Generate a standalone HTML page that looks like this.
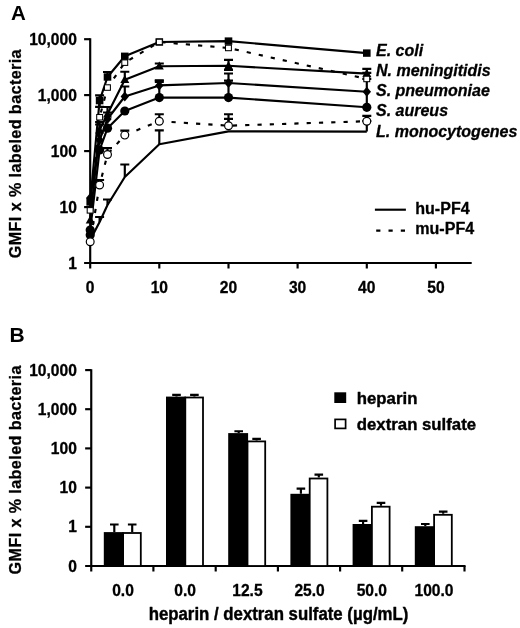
<!DOCTYPE html>
<html><head><meta charset="utf-8"><title>Figure</title>
<style>html,body{margin:0;padding:0;background:#fff}svg{display:block}text{fill:#000;stroke-linejoin:round}</style></head>
<body><svg width="520" height="628" viewBox="0 0 520 628">
<rect width="520" height="628" fill="#fff"/>
<path d="M90.2 38.3V268.5M84.10000000000001 263.0H471.7" stroke="#000" stroke-width="2.15" fill="none"/>
<text transform="translate(76.90,268.60)" text-anchor="end" font-family="Liberation Sans, Arial, Helvetica, sans-serif" font-weight="bold" font-size="15.6" stroke="#000" stroke-width="0.3">1</text>
<path d="M84.10000000000001 207.1H90.2" stroke="#000" stroke-width="2.15"/>
<text transform="translate(76.90,212.65)" text-anchor="end" font-family="Liberation Sans, Arial, Helvetica, sans-serif" font-weight="bold" font-size="15.6" stroke="#000" stroke-width="0.3">10</text>
<path d="M84.10000000000001 151.1H90.2" stroke="#000" stroke-width="2.15"/>
<text transform="translate(76.90,156.70)" text-anchor="end" font-family="Liberation Sans, Arial, Helvetica, sans-serif" font-weight="bold" font-size="15.6" stroke="#000" stroke-width="0.3">100</text>
<path d="M84.10000000000001 95.1H90.2" stroke="#000" stroke-width="2.15"/>
<text transform="translate(76.90,100.75)" text-anchor="end" font-family="Liberation Sans, Arial, Helvetica, sans-serif" font-weight="bold" font-size="15.6" stroke="#000" stroke-width="0.3">1,000</text>
<path d="M84.10000000000001 39.2H90.2" stroke="#000" stroke-width="2.15"/>
<text transform="translate(76.90,44.80)" text-anchor="end" font-family="Liberation Sans, Arial, Helvetica, sans-serif" font-weight="bold" font-size="15.6" stroke="#000" stroke-width="0.3">10,000</text>
<path d="M159.3 263.0V268.5" stroke="#000" stroke-width="2.15"/>
<path d="M228.5 263.0V268.5" stroke="#000" stroke-width="2.15"/>
<path d="M297.6 263.0V268.5" stroke="#000" stroke-width="2.15"/>
<path d="M366.8 263.0V268.5" stroke="#000" stroke-width="2.15"/>
<path d="M435.9 263.0V268.5" stroke="#000" stroke-width="2.15"/>
<text transform="translate(90.20,293.20)" text-anchor="middle" font-family="Liberation Sans, Arial, Helvetica, sans-serif" font-weight="bold" font-size="15.6" stroke="#000" stroke-width="0.3">0</text>
<text transform="translate(159.34,293.20)" text-anchor="middle" font-family="Liberation Sans, Arial, Helvetica, sans-serif" font-weight="bold" font-size="15.6" stroke="#000" stroke-width="0.3">10</text>
<text transform="translate(228.48,293.20)" text-anchor="middle" font-family="Liberation Sans, Arial, Helvetica, sans-serif" font-weight="bold" font-size="15.6" stroke="#000" stroke-width="0.3">20</text>
<text transform="translate(297.62,293.20)" text-anchor="middle" font-family="Liberation Sans, Arial, Helvetica, sans-serif" font-weight="bold" font-size="15.6" stroke="#000" stroke-width="0.3">30</text>
<text transform="translate(366.76,293.20)" text-anchor="middle" font-family="Liberation Sans, Arial, Helvetica, sans-serif" font-weight="bold" font-size="15.6" stroke="#000" stroke-width="0.3">40</text>
<text transform="translate(435.90,293.20)" text-anchor="middle" font-family="Liberation Sans, Arial, Helvetica, sans-serif" font-weight="bold" font-size="15.6" stroke="#000" stroke-width="0.3">50</text>
<text transform="translate(21.20,153.60) rotate(-90) scale(0.95,1)" text-anchor="middle" font-family="Liberation Sans, Arial, Helvetica, sans-serif" font-weight="bold" font-size="17.0" stroke="#000" stroke-width="0.3" letter-spacing="0.42">GMFI x % labeled bacteria</text>
<text transform="translate(11.00,19.90)" text-anchor="start" font-family="Liberation Sans, Arial, Helvetica, sans-serif" font-weight="bold" font-size="20.5">A</text>
<path d="M90.2 240.0L99.6 222.0L107.5 205.0L124.8 177.0L159.3 144.2L228.5 131.4L366.8 131.6" stroke="#000" stroke-width="2.15" fill="none" stroke-linejoin="round"/>
<path d="M99.6 222.0V217.0M95.1 217.0H104.1" stroke="#000" stroke-width="2.15" fill="none"/>
<path d="M107.5 205.0V199.5M103.0 199.5H112.0" stroke="#000" stroke-width="2.15" fill="none"/>
<path d="M124.8 177.0V164.5M120.3 164.5H129.3" stroke="#000" stroke-width="2.15" fill="none"/>
<path d="M159.3 144.2V130.4M154.8 130.4H163.8" stroke="#000" stroke-width="2.15" fill="none"/>
<path d="M366.8 131.5V121.0M362.3 121.0H371.3" stroke="#000" stroke-width="2.15" fill="none"/>
<path d="M90.2 241.7L99.6 185.0L107.5 154.5L124.8 135.1L159.3 121.2L228.5 125.7L366.8 121.2" stroke="#000" stroke-width="2.15" fill="none" stroke-dasharray="4.2 8.1" stroke-dashoffset="-4.5" stroke-linejoin="round"/>
<path d="M99.6 185.0V180.0M95.1 180.0H104.1" stroke="#000" stroke-width="2.15" fill="none"/>
<path d="M107.5 154.5V148.1M103.0 148.1H112.0" stroke="#000" stroke-width="2.15" fill="none"/>
<path d="M124.8 135.1V130.6M120.3 130.6H129.3" stroke="#000" stroke-width="2.15" fill="none"/>
<path d="M159.3 121.2V114.2M154.8 114.2H163.8" stroke="#000" stroke-width="2.15" fill="none"/>
<path d="M228.5 125.7V114.2M224.0 114.2H233.0" stroke="#000" stroke-width="2.15" fill="none"/>
<path d="M228.5 125.7V118.8M224.0 118.8H233.0" stroke="#000" stroke-width="2.15" fill="none"/>
<path d="M366.8 121.2V115.8M362.3 115.8H371.3" stroke="#000" stroke-width="2.15" fill="none"/>
<path d="M90.2 230.0L99.6 150.0L107.5 128.2L124.8 111.0L159.3 97.6L228.5 97.6L366.8 107.3" stroke="#000" stroke-width="2.15" fill="none" stroke-linejoin="round"/>
<path d="M228.5 97.6V83M159.3 97.6V85" stroke="#000" stroke-width="2.15"/>
<path d="M154.8 81.4h9" stroke="#000" stroke-width="3.2"/>
<path d="M90.2 198.0L99.6 140.0L107.5 119.0L124.8 96.5L159.3 85.4L228.5 83.0L366.8 91.8" stroke="#000" stroke-width="2.15" fill="none" stroke-linejoin="round"/>
<path d="M124.8 96.5V86.5M120.3 86.5H129.3" stroke="#000" stroke-width="2.15" fill="none"/>
<path d="M159.3 85.4V80.3M154.8 80.3H163.8" stroke="#000" stroke-width="2.15" fill="none"/>
<path d="M228.5 83.0V73.5M224.0 73.5H233.0" stroke="#000" stroke-width="2.15" fill="none"/>
<path d="M228.5 83.0V80.6M224.0 80.6H233.0" stroke="#000" stroke-width="2.15" fill="none"/>
<path d="M366.8 107.3V78.9M362.3 78.9H371.3" stroke="#000" stroke-width="2.15" fill="none"/>
<path d="M90.2 220.0L99.6 130.0L107.5 114.0L124.8 79.7L159.3 66.2L228.5 65.8L366.8 73.6" stroke="#000" stroke-width="2.15" fill="none" stroke-linejoin="round"/>
<path d="M124.8 79.7V71.7M120.3 71.7H129.3" stroke="#000" stroke-width="2.15" fill="none"/>
<path d="M159.3 66.2V63.5M154.8 63.5H163.8" stroke="#000" stroke-width="2.15" fill="none"/>
<path d="M228.5 66.2V59.9M224.0 59.9H233.0" stroke="#000" stroke-width="2.15" fill="none"/>
<path d="M228.5 66.2V70.0M224.0 70.0H233.0" stroke="#000" stroke-width="2.15" fill="none"/>
<path d="M366.8 73.6V68.9M362.3 68.9H371.3" stroke="#000" stroke-width="2.15" fill="none"/>
<path d="M366.8 73.6V72.8M362.3 72.8H371.3" stroke="#000" stroke-width="2.15" fill="none"/>
<path d="M90.2 210.3L99.6 117.3L107.5 87.6L124.8 62.6L159.3 42.0L228.5 48.0L366.8 78.9" stroke="#000" stroke-width="2.15" fill="none" stroke-dasharray="4.2 8.1" stroke-dashoffset="0" stroke-linejoin="round"/>
<path d="M90.2 202.0L99.6 100.6L107.5 77.0L124.8 56.3L159.3 42.0L228.5 41.1L366.8 53.1" stroke="#000" stroke-width="2.15" fill="none" stroke-linejoin="round"/>
<path d="M99.6 100.6V95.3M95.1 95.3H104.1" stroke="#000" stroke-width="2.15" fill="none"/>
<path d="M99.6 100.6V106.8M95.1 106.8H104.1" stroke="#000" stroke-width="2.15" fill="none"/>
<path d="M107.5 114.0V107.0M103.0 107.0H112.0" stroke="#000" stroke-width="2.15" fill="none"/>
<path d="M107.5 119.0V112.5M103.0 112.5H112.0" stroke="#000" stroke-width="2.15" fill="none"/>
<path d="M99.6 130.0V122.0M95.1 122.0H104.1" stroke="#000" stroke-width="2.15" fill="none"/>
<path d="M99.6 140.0V124.5M95.1 124.5H104.1" stroke="#000" stroke-width="2.15" fill="none"/>
<path d="M107.5 77.0V72.0M103.0 72.0H112.0" stroke="#000" stroke-width="2.15" fill="none"/>
<circle cx="90.2" cy="230.0" r="4.6" fill="#000"/>
<circle cx="99.6" cy="150.0" r="4.6" fill="#000"/>
<circle cx="107.5" cy="128.2" r="4.6" fill="#000"/>
<circle cx="124.8" cy="111.0" r="4.6" fill="#000"/>
<circle cx="159.3" cy="97.6" r="4.6" fill="#000"/>
<circle cx="228.5" cy="97.6" r="4.6" fill="#000"/>
<circle cx="366.8" cy="107.3" r="4.6" fill="#000"/>
<circle cx="90.2" cy="235.0" r="4.6" fill="#000"/>
<path d="M90.2 193.0L94.4 198.0L90.2 203.0L86.0 198.0Z" fill="#000"/>
<path d="M99.6 135.0L103.8 140.0L99.6 145.0L95.4 140.0Z" fill="#000"/>
<path d="M107.5 114.0L111.7 119.0L107.5 124.0L103.3 119.0Z" fill="#000"/>
<path d="M124.8 91.5L129.0 96.5L124.8 101.5L120.6 96.5Z" fill="#000"/>
<path d="M159.3 80.4L163.5 85.4L159.3 90.4L155.1 85.4Z" fill="#000"/>
<path d="M228.5 78.0L232.7 83.0L228.5 88.0L224.3 83.0Z" fill="#000"/>
<path d="M366.8 86.8L371.0 91.8L366.8 96.8L362.6 91.8Z" fill="#000"/>
<path d="M90.2 215.4L94.7 223.4H85.7Z" fill="#000"/>
<path d="M99.6 125.4L104.1 133.4H95.1Z" fill="#000"/>
<path d="M107.5 109.4L112.0 117.4H103.0Z" fill="#000"/>
<path d="M124.8 75.1L129.3 83.1H120.3Z" fill="#000"/>
<path d="M159.3 61.6L163.8 69.6H154.8Z" fill="#000"/>
<path d="M228.5 61.2L233.0 69.2H224.0Z" fill="#000"/>
<path d="M366.8 69.0L371.3 77.0H362.3Z" fill="#000"/>
<rect x="86.4" y="198.3" width="7.6" height="7.4" fill="#000"/>
<rect x="95.8" y="96.9" width="7.6" height="7.4" fill="#000"/>
<rect x="103.7" y="73.3" width="7.6" height="7.4" fill="#000"/>
<rect x="121.0" y="52.6" width="7.6" height="7.4" fill="#000"/>
<rect x="155.5" y="38.3" width="7.6" height="7.4" fill="#000"/>
<rect x="224.7" y="37.4" width="7.6" height="7.4" fill="#000"/>
<rect x="363.0" y="49.4" width="7.6" height="7.4" fill="#000"/>
<rect x="87.2" y="207.6" width="5.9" height="5.5" fill="#fff" stroke="#000" stroke-width="1.05"/>
<rect x="96.7" y="114.5" width="5.9" height="5.5" fill="#fff" stroke="#000" stroke-width="1.05"/>
<rect x="104.5" y="84.8" width="5.9" height="5.5" fill="#fff" stroke="#000" stroke-width="1.05"/>
<rect x="121.8" y="59.9" width="5.9" height="5.5" fill="#fff" stroke="#000" stroke-width="1.05"/>
<rect x="156.4" y="39.2" width="5.9" height="5.5" fill="#fff" stroke="#000" stroke-width="1.05"/>
<rect x="225.5" y="45.2" width="5.9" height="5.5" fill="#fff" stroke="#000" stroke-width="1.05"/>
<rect x="363.8" y="76.2" width="5.9" height="5.5" fill="#fff" stroke="#000" stroke-width="1.05"/>
<circle cx="90.2" cy="241.7" r="3.9" fill="#fff" stroke="#000" stroke-width="1.2"/>
<circle cx="99.6" cy="185.0" r="3.9" fill="#fff" stroke="#000" stroke-width="1.2"/>
<circle cx="107.5" cy="154.5" r="3.9" fill="#fff" stroke="#000" stroke-width="1.2"/>
<circle cx="124.8" cy="135.1" r="3.9" fill="#fff" stroke="#000" stroke-width="1.2"/>
<circle cx="159.3" cy="121.2" r="3.9" fill="#fff" stroke="#000" stroke-width="1.2"/>
<circle cx="228.5" cy="125.7" r="3.9" fill="#fff" stroke="#000" stroke-width="1.2"/>
<circle cx="366.8" cy="121.2" r="3.9" fill="#fff" stroke="#000" stroke-width="1.2"/>
<text transform="translate(376.00,55.50)" text-anchor="start" font-family="Liberation Sans, Arial, Helvetica, sans-serif" font-weight="bold" font-style="italic" font-size="16.0" stroke="#000" stroke-width="0.3">E. coli</text>
<text transform="translate(376.00,75.83)" text-anchor="start" font-family="Liberation Sans, Arial, Helvetica, sans-serif" font-weight="bold" font-style="italic" font-size="16.0" stroke="#000" stroke-width="0.3">N. meningitidis</text>
<text transform="translate(376.00,96.16)" text-anchor="start" font-family="Liberation Sans, Arial, Helvetica, sans-serif" font-weight="bold" font-style="italic" font-size="16.0" stroke="#000" stroke-width="0.3">S. pneumoniae</text>
<text transform="translate(376.00,116.49)" text-anchor="start" font-family="Liberation Sans, Arial, Helvetica, sans-serif" font-weight="bold" font-style="italic" font-size="16.0" stroke="#000" stroke-width="0.3">S. aureus</text>
<text transform="translate(376.00,136.82)" text-anchor="start" font-family="Liberation Sans, Arial, Helvetica, sans-serif" font-weight="bold" font-style="italic" font-size="16.0" stroke="#000" stroke-width="0.3">L. monocytogenes</text>
<path d="M374.9 209.7H405.9" stroke="#000" stroke-width="2.15"/>
<path d="M376.2 230.6H405.4" stroke="#000" stroke-width="2.15" stroke-dasharray="4.2 8.1"/>
<text transform="translate(415.20,213.60) scale(0.935,1)" text-anchor="start" font-family="Liberation Sans, Arial, Helvetica, sans-serif" font-weight="bold" font-size="17.2" stroke="#000" stroke-width="0.3">hu-PF4</text>
<text transform="translate(415.20,233.80) scale(0.935,1)" text-anchor="start" font-family="Liberation Sans, Arial, Helvetica, sans-serif" font-weight="bold" font-size="17.2" stroke="#000" stroke-width="0.3">mu-PF4</text>
<path d="M91.25 369.2V571.5M85.15 566.0H465.55" stroke="#000" stroke-width="2.15" fill="none"/>
<text transform="translate(76.90,571.60)" text-anchor="end" font-family="Liberation Sans, Arial, Helvetica, sans-serif" font-weight="bold" font-size="15.6" stroke="#000" stroke-width="0.3">0</text>
<path d="M85.15 526.8H91.25" stroke="#000" stroke-width="2.15"/>
<text transform="translate(76.90,532.41)" text-anchor="end" font-family="Liberation Sans, Arial, Helvetica, sans-serif" font-weight="bold" font-size="15.6" stroke="#000" stroke-width="0.3">1</text>
<path d="M85.15 487.6H91.25" stroke="#000" stroke-width="2.15"/>
<text transform="translate(76.90,493.22)" text-anchor="end" font-family="Liberation Sans, Arial, Helvetica, sans-serif" font-weight="bold" font-size="15.6" stroke="#000" stroke-width="0.3">10</text>
<path d="M85.15 448.4H91.25" stroke="#000" stroke-width="2.15"/>
<text transform="translate(76.90,454.03)" text-anchor="end" font-family="Liberation Sans, Arial, Helvetica, sans-serif" font-weight="bold" font-size="15.6" stroke="#000" stroke-width="0.3">100</text>
<path d="M85.15 409.2H91.25" stroke="#000" stroke-width="2.15"/>
<text transform="translate(76.90,414.84)" text-anchor="end" font-family="Liberation Sans, Arial, Helvetica, sans-serif" font-weight="bold" font-size="15.6" stroke="#000" stroke-width="0.3">1,000</text>
<path d="M85.15 370.1H91.25" stroke="#000" stroke-width="2.15"/>
<text transform="translate(76.90,375.65)" text-anchor="end" font-family="Liberation Sans, Arial, Helvetica, sans-serif" font-weight="bold" font-size="15.6" stroke="#000" stroke-width="0.3">10,000</text>
<path d="M153.4 566.0V571.5" stroke="#000" stroke-width="2.15"/>
<path d="M215.7 566.0V571.5" stroke="#000" stroke-width="2.15"/>
<path d="M277.9 566.0V571.5" stroke="#000" stroke-width="2.15"/>
<path d="M340.1 566.0V571.5" stroke="#000" stroke-width="2.15"/>
<path d="M402.2 566.0V571.5" stroke="#000" stroke-width="2.15"/>
<path d="M464.5 566.0V571.5" stroke="#000" stroke-width="2.15"/>
<text transform="translate(123.00,595.90)" text-anchor="middle" font-family="Liberation Sans, Arial, Helvetica, sans-serif" font-weight="bold" font-size="15.6" stroke="#000" stroke-width="0.3">0.0</text>
<path d="M114.3 532.1V524.5M110.0 524.5h8.6M132.2 532.1V524.5M127.9 524.5h8.6" stroke="#000" stroke-width="2.15" fill="none"/>
<rect x="103.8" y="532.1" width="19.9" height="33.9" fill="#000"/>
<rect x="123.1" y="533.0" width="17.7" height="33.0" fill="#fff" stroke="#000" stroke-width="1.8"/>
<text transform="translate(185.20,595.90)" text-anchor="middle" font-family="Liberation Sans, Arial, Helvetica, sans-serif" font-weight="bold" font-size="15.6" stroke="#000" stroke-width="0.3">0.0</text>
<path d="M176.5 396.6V394.9M172.2 394.9h8.6M194.4 396.6V394.9M190.1 394.9h8.6" stroke="#000" stroke-width="2.15" fill="none"/>
<rect x="166.0" y="396.6" width="19.9" height="169.4" fill="#000"/>
<rect x="185.3" y="397.5" width="17.7" height="168.5" fill="#fff" stroke="#000" stroke-width="1.8"/>
<text transform="translate(247.40,595.90)" text-anchor="middle" font-family="Liberation Sans, Arial, Helvetica, sans-serif" font-weight="bold" font-size="15.6" stroke="#000" stroke-width="0.3">12.5</text>
<path d="M238.7 433.1V431.2M234.4 431.2h8.6M256.6 440.5V438.8M252.3 438.8h8.6" stroke="#000" stroke-width="2.15" fill="none"/>
<rect x="228.2" y="433.1" width="19.9" height="132.9" fill="#000"/>
<rect x="247.5" y="441.4" width="17.7" height="124.6" fill="#fff" stroke="#000" stroke-width="1.8"/>
<text transform="translate(309.60,595.90)" text-anchor="middle" font-family="Liberation Sans, Arial, Helvetica, sans-serif" font-weight="bold" font-size="15.6" stroke="#000" stroke-width="0.3">25.0</text>
<path d="M300.9 493.8V488.6M296.6 488.6h8.6M318.8 477.6V474.6M314.5 474.6h8.6" stroke="#000" stroke-width="2.15" fill="none"/>
<rect x="290.4" y="493.8" width="19.9" height="72.2" fill="#000"/>
<rect x="309.7" y="478.5" width="17.7" height="87.5" fill="#fff" stroke="#000" stroke-width="1.8"/>
<text transform="translate(371.80,595.90)" text-anchor="middle" font-family="Liberation Sans, Arial, Helvetica, sans-serif" font-weight="bold" font-size="15.6" stroke="#000" stroke-width="0.3">50.0</text>
<path d="M363.1 524V520.9M358.8 520.9h8.6M381.0 505.8V502.9M376.7 502.9h8.6" stroke="#000" stroke-width="2.15" fill="none"/>
<rect x="352.6" y="524" width="19.9" height="42.0" fill="#000"/>
<rect x="371.9" y="506.7" width="17.7" height="59.3" fill="#fff" stroke="#000" stroke-width="1.8"/>
<text transform="translate(434.00,595.90)" text-anchor="middle" font-family="Liberation Sans, Arial, Helvetica, sans-serif" font-weight="bold" font-size="15.6" stroke="#000" stroke-width="0.3">100.0</text>
<path d="M425.3 526.2V524M421.0 524h8.6M443.2 513.85V511.6M438.9 511.6h8.6" stroke="#000" stroke-width="2.15" fill="none"/>
<rect x="414.8" y="526.2" width="19.9" height="39.8" fill="#000"/>
<rect x="434.1" y="514.8" width="17.7" height="51.2" fill="#fff" stroke="#000" stroke-width="1.8"/>
<text transform="translate(21.20,469.80) rotate(-90) scale(0.95,1)" text-anchor="middle" font-family="Liberation Sans, Arial, Helvetica, sans-serif" font-weight="bold" font-size="17.0" stroke="#000" stroke-width="0.3" letter-spacing="0.42">GMFI x % labeled bacteria</text>
<text transform="translate(9.60,341.80)" text-anchor="start" font-family="Liberation Sans, Arial, Helvetica, sans-serif" font-weight="bold" font-size="21">B</text>
<text transform="translate(278.50,619.60) scale(0.96,1)" text-anchor="middle" font-family="Liberation Sans, Arial, Helvetica, sans-serif" font-weight="bold" font-size="17.5" stroke="#000" stroke-width="0.4">heparin / dextran sulfate (µg/mL)</text>
<rect x="334.3" y="392.3" width="11.9" height="10.7" fill="#000"/>
<rect x="335.1" y="419.4" width="10.5" height="9" fill="#fff" stroke="#000" stroke-width="1.7"/>
<text transform="translate(356.80,403.60) scale(0.97,1)" text-anchor="start" font-family="Liberation Sans, Arial, Helvetica, sans-serif" font-weight="bold" font-size="17.3" stroke="#000" stroke-width="0.4">heparin</text>
<text transform="translate(356.80,429.80) scale(0.97,1)" text-anchor="start" font-family="Liberation Sans, Arial, Helvetica, sans-serif" font-weight="bold" font-size="17.3" stroke="#000" stroke-width="0.4">dextran sulfate</text>
</svg></body></html>
